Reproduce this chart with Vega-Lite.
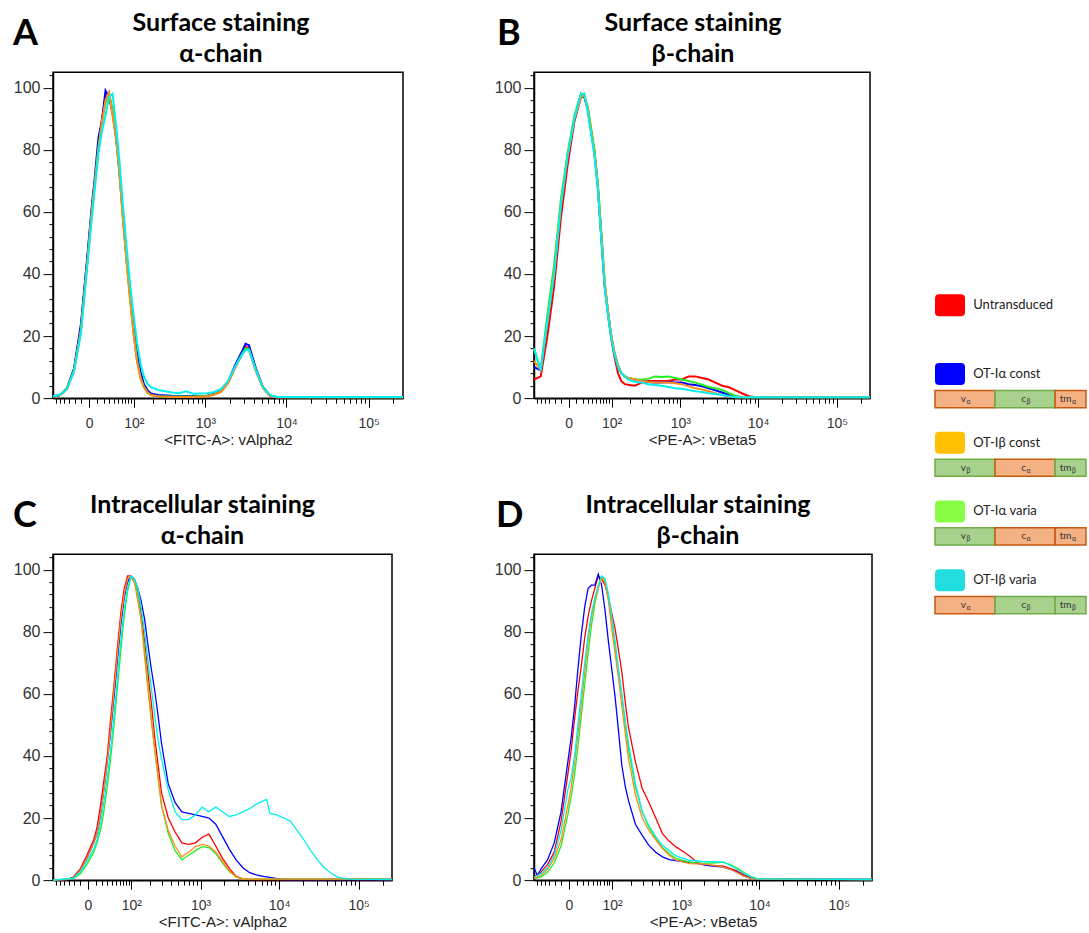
{
"$schema": "https://vega.github.io/schema/vega-lite/v6.json",
"background": "white",
"padding": {"left": 12, "top": 10, "right": 0, "bottom": 0},
"config": {
  "font": "Liberation Sans",
  "view": {"stroke": "black", "strokeWidth": 1.5},
  "axis": {"grid": false, "domainColor": "black", "domainWidth": 1.5, "tickColor": "black", "tickWidth": 1, "labelColor": "#333", "labelFont": "Liberation Sans", "labelFontSize": 14, "titleFont": "Liberation Sans", "titleFontSize": 15, "titleFontWeight": "normal", "titleColor": "#222", "labelOverlap": false, "labelBound": false, "labelFlush": false},
  "title": {"font": "Lato", "fontSize": 25, "fontWeight": "bold", "color": "black", "lineHeight": 31, "offset": -51, "anchor": "middle", "frame": "group"}
},
"datasets": {
"A": [
{"s":"U","x":-69.7,"y":0.5},{"s":"U","x":-50.2,"y":1},{"s":"U","x":-34.2,"y":3},{"s":"U","x":-21,"y":9},{"s":"U","x":-10.1,"y":23},{"s":"U","x":-1.2,"y":47},{"s":"U","x":2.9,"y":60},{"s":"U","x":7.3,"y":70},{"s":"U","x":12.1,"y":81},{"s":"U","x":17.5,"y":90},{"s":"U","x":23.4,"y":97},{"s":"U","x":30,"y":98},{"s":"U","x":37.2,"y":92},{"s":"U","x":45.1,"y":85},{"s":"U","x":53.9,"y":73},{"s":"U","x":63.5,"y":58},{"s":"U","x":74.2,"y":45},{"s":"U","x":85.9,"y":33},{"s":"U","x":98.9,"y":22},{"s":"U","x":113,"y":13},{"s":"U","x":129,"y":7},{"s":"U","x":146,"y":4},{"s":"U","x":166,"y":2},{"s":"U","x":186,"y":1.2},{"s":"U","x":236,"y":0.8},{"s":"U","x":368,"y":0.5},{"s":"U","x":695,"y":0.5},{"s":"U","x":1046,"y":0.7},{"s":"U","x":1282,"y":1.2},{"s":"U","x":1567,"y":2},{"s":"U","x":1916,"y":5},{"s":"U","x":2337,"y":10},{"s":"U","x":2852,"y":14.5},{"s":"U","x":3154,"y":16.5},{"s":"U","x":3476,"y":16},{"s":"U","x":4236,"y":9},{"s":"U","x":5172,"y":3.5},{"s":"U","x":6300,"y":0.8},{"s":"U","x":7674,"y":0.3},{"s":"U","x":262144,"y":0.3},
{"s":"Ac","x":-69.7,"y":0.5},{"s":"Ac","x":-50.2,"y":1},{"s":"Ac","x":-34.2,"y":3.2},{"s":"Ac","x":-21,"y":9.5},{"s":"Ac","x":-10.1,"y":24},{"s":"Ac","x":-1.2,"y":48},{"s":"Ac","x":2.9,"y":61},{"s":"Ac","x":7.3,"y":72},{"s":"Ac","x":12.1,"y":84},{"s":"Ac","x":17.5,"y":89.5},{"s":"Ac","x":23.4,"y":99},{"s":"Ac","x":30,"y":97},{"s":"Ac","x":37.2,"y":92},{"s":"Ac","x":45.1,"y":84},{"s":"Ac","x":53.9,"y":73},{"s":"Ac","x":63.5,"y":59},{"s":"Ac","x":74.2,"y":46},{"s":"Ac","x":85.9,"y":35},{"s":"Ac","x":98.9,"y":24},{"s":"Ac","x":113,"y":15},{"s":"Ac","x":129,"y":8.5},{"s":"Ac","x":146,"y":4.5},{"s":"Ac","x":166,"y":2.5},{"s":"Ac","x":186,"y":1.5},{"s":"Ac","x":236,"y":1},{"s":"Ac","x":368,"y":0.8},{"s":"Ac","x":695,"y":0.7},{"s":"Ac","x":1046,"y":0.8},{"s":"Ac","x":1282,"y":1.3},{"s":"Ac","x":1567,"y":2.2},{"s":"Ac","x":1916,"y":5.2},{"s":"Ac","x":2337,"y":10.5},{"s":"Ac","x":2852,"y":15},{"s":"Ac","x":3154,"y":17.5},{"s":"Ac","x":3476,"y":17},{"s":"Ac","x":4236,"y":9.5},{"s":"Ac","x":5172,"y":3.5},{"s":"Ac","x":6300,"y":0.8},{"s":"Ac","x":7674,"y":0.3},{"s":"Ac","x":262144,"y":0.3},
{"s":"Av","x":-69.7,"y":0.5},{"s":"Av","x":-50.2,"y":1},{"s":"Av","x":-34.2,"y":3},{"s":"Av","x":-21,"y":9},{"s":"Av","x":-10.1,"y":22},{"s":"Av","x":-1.2,"y":46},{"s":"Av","x":2.9,"y":59},{"s":"Av","x":7.3,"y":70},{"s":"Av","x":12.1,"y":81},{"s":"Av","x":17.5,"y":89},{"s":"Av","x":23.4,"y":95},{"s":"Av","x":30,"y":98},{"s":"Av","x":37.2,"y":93},{"s":"Av","x":45.1,"y":84},{"s":"Av","x":53.9,"y":72},{"s":"Av","x":63.5,"y":58},{"s":"Av","x":74.2,"y":44},{"s":"Av","x":85.9,"y":32},{"s":"Av","x":98.9,"y":21},{"s":"Av","x":113,"y":12},{"s":"Av","x":129,"y":6.5},{"s":"Av","x":146,"y":3.5},{"s":"Av","x":166,"y":1.8},{"s":"Av","x":186,"y":1},{"s":"Av","x":236,"y":0.6},{"s":"Av","x":368,"y":0.5},{"s":"Av","x":695,"y":0.5},{"s":"Av","x":1046,"y":0.7},{"s":"Av","x":1282,"y":1.2},{"s":"Av","x":1567,"y":2.1},{"s":"Av","x":1916,"y":5},{"s":"Av","x":2337,"y":9.8},{"s":"Av","x":2852,"y":14.2},{"s":"Av","x":3154,"y":16},{"s":"Av","x":3476,"y":15.8},{"s":"Av","x":4236,"y":8.8},{"s":"Av","x":5172,"y":3.3},{"s":"Av","x":6300,"y":0.8},{"s":"Av","x":7674,"y":0.3},{"s":"Av","x":262144,"y":0.3},
{"s":"Bc","x":-69.7,"y":0.5},{"s":"Bc","x":-50.2,"y":1},{"s":"Bc","x":-34.2,"y":3},{"s":"Bc","x":-21,"y":8.5},{"s":"Bc","x":-10.1,"y":22},{"s":"Bc","x":-1.2,"y":46},{"s":"Bc","x":2.9,"y":59},{"s":"Bc","x":7.3,"y":70},{"s":"Bc","x":12.1,"y":80},{"s":"Bc","x":17.5,"y":89},{"s":"Bc","x":23.4,"y":96},{"s":"Bc","x":30,"y":98.5},{"s":"Bc","x":37.2,"y":91},{"s":"Bc","x":45.1,"y":84},{"s":"Bc","x":53.9,"y":72},{"s":"Bc","x":63.5,"y":57},{"s":"Bc","x":74.2,"y":44},{"s":"Bc","x":85.9,"y":32},{"s":"Bc","x":98.9,"y":21},{"s":"Bc","x":113,"y":12},{"s":"Bc","x":129,"y":6.5},{"s":"Bc","x":146,"y":3.5},{"s":"Bc","x":166,"y":1.8},{"s":"Bc","x":186,"y":1},{"s":"Bc","x":236,"y":0.6},{"s":"Bc","x":368,"y":0.4},{"s":"Bc","x":695,"y":0.4},{"s":"Bc","x":1046,"y":0.6},{"s":"Bc","x":1282,"y":1.1},{"s":"Bc","x":1567,"y":2},{"s":"Bc","x":1916,"y":4.8},{"s":"Bc","x":2337,"y":9.5},{"s":"Bc","x":2852,"y":14},{"s":"Bc","x":3154,"y":15.5},{"s":"Bc","x":3476,"y":15.5},{"s":"Bc","x":4236,"y":8.5},{"s":"Bc","x":5172,"y":3.2},{"s":"Bc","x":6300,"y":0.7},{"s":"Bc","x":7674,"y":0.3},{"s":"Bc","x":262144,"y":0.3},
{"s":"Bv","x":-69.7,"y":0.6},{"s":"Bv","x":-50.2,"y":1.1},{"s":"Bv","x":-34.2,"y":3},{"s":"Bv","x":-21,"y":8.5},{"s":"Bv","x":-10.1,"y":21},{"s":"Bv","x":-1.2,"y":45},{"s":"Bv","x":2.9,"y":57},{"s":"Bv","x":7.3,"y":68},{"s":"Bv","x":12.1,"y":79},{"s":"Bv","x":17.5,"y":86},{"s":"Bv","x":23.4,"y":91},{"s":"Bv","x":30,"y":97},{"s":"Bv","x":37.2,"y":98},{"s":"Bv","x":45.1,"y":88},{"s":"Bv","x":53.9,"y":76},{"s":"Bv","x":63.5,"y":62},{"s":"Bv","x":74.2,"y":49},{"s":"Bv","x":85.9,"y":37},{"s":"Bv","x":98.9,"y":27},{"s":"Bv","x":113,"y":18},{"s":"Bv","x":129,"y":11},{"s":"Bv","x":146,"y":7},{"s":"Bv","x":166,"y":4.5},{"s":"Bv","x":186,"y":3.5},{"s":"Bv","x":236,"y":2.6},{"s":"Bv","x":296,"y":2.2},{"s":"Bv","x":368,"y":1.8},{"s":"Bv","x":457,"y":1.6},{"s":"Bv","x":564,"y":2.2},{"s":"Bv","x":695,"y":1.4},{"s":"Bv","x":1046,"y":1.6},{"s":"Bv","x":1282,"y":2},{"s":"Bv","x":1567,"y":3},{"s":"Bv","x":1916,"y":5.5},{"s":"Bv","x":2337,"y":10},{"s":"Bv","x":2852,"y":14},{"s":"Bv","x":3154,"y":15.5},{"s":"Bv","x":3476,"y":15.5},{"s":"Bv","x":4236,"y":9},{"s":"Bv","x":5172,"y":3.5},{"s":"Bv","x":6300,"y":1},{"s":"Bv","x":7674,"y":0.4},{"s":"Bv","x":262144,"y":0.4}
],
"B": [
{"s":"U","x":-69.7,"y":6},{"s":"U","x":-50.2,"y":7},{"s":"U","x":-34.2,"y":20},{"s":"U","x":-21,"y":36},{"s":"U","x":-10.1,"y":58},{"s":"U","x":-1.2,"y":75},{"s":"U","x":7.3,"y":89},{"s":"U","x":17.5,"y":97},{"s":"U","x":23.4,"y":97},{"s":"U","x":30,"y":93},{"s":"U","x":45.1,"y":79},{"s":"U","x":53.9,"y":68},{"s":"U","x":63.5,"y":52},{"s":"U","x":74.2,"y":36},{"s":"U","x":85.9,"y":27},{"s":"U","x":98.9,"y":19},{"s":"U","x":113,"y":13},{"s":"U","x":129,"y":8},{"s":"U","x":146,"y":5.5},{"s":"U","x":166,"y":4.5},{"s":"U","x":186,"y":4.3},{"s":"U","x":236,"y":4},{"s":"U","x":296,"y":5},{"s":"U","x":368,"y":5.5},{"s":"U","x":457,"y":5.5},{"s":"U","x":564,"y":5.5},{"s":"U","x":695,"y":5.5},{"s":"U","x":854,"y":6},{"s":"U","x":1046,"y":6},{"s":"U","x":1282,"y":7},{"s":"U","x":1567,"y":7},{"s":"U","x":1916,"y":6.5},{"s":"U","x":2337,"y":6},{"s":"U","x":2852,"y":5},{"s":"U","x":3483,"y":4},{"s":"U","x":4245,"y":3.5},{"s":"U","x":5172,"y":2.5},{"s":"U","x":6300,"y":1.5},{"s":"U","x":7674,"y":0.6},{"s":"U","x":9344,"y":0.3},{"s":"U","x":262144,"y":0.3},
{"s":"Ac","x":-69.7,"y":10},{"s":"Ac","x":-50.2,"y":9},{"s":"Ac","x":-34.2,"y":24},{"s":"Ac","x":-21,"y":40},{"s":"Ac","x":-10.1,"y":62},{"s":"Ac","x":-1.2,"y":78},{"s":"Ac","x":7.3,"y":90},{"s":"Ac","x":17.5,"y":98},{"s":"Ac","x":23.4,"y":97},{"s":"Ac","x":30,"y":93},{"s":"Ac","x":45.1,"y":79},{"s":"Ac","x":53.9,"y":68},{"s":"Ac","x":63.5,"y":53},{"s":"Ac","x":74.2,"y":37},{"s":"Ac","x":85.9,"y":28},{"s":"Ac","x":98.9,"y":20},{"s":"Ac","x":113,"y":14},{"s":"Ac","x":129,"y":10.5},{"s":"Ac","x":146,"y":8},{"s":"Ac","x":166,"y":7},{"s":"Ac","x":186,"y":6.5},{"s":"Ac","x":236,"y":6},{"s":"Ac","x":296,"y":5.5},{"s":"Ac","x":368,"y":5.2},{"s":"Ac","x":457,"y":5},{"s":"Ac","x":564,"y":5},{"s":"Ac","x":695,"y":5.2},{"s":"Ac","x":854,"y":5},{"s":"Ac","x":1046,"y":5},{"s":"Ac","x":1282,"y":4.5},{"s":"Ac","x":1567,"y":4.2},{"s":"Ac","x":1916,"y":3.8},{"s":"Ac","x":2337,"y":3.2},{"s":"Ac","x":2852,"y":2.5},{"s":"Ac","x":3483,"y":1.8},{"s":"Ac","x":4245,"y":1},{"s":"Ac","x":5172,"y":0.4},{"s":"Ac","x":6300,"y":0.3},{"s":"Ac","x":262144,"y":0.3},
{"s":"Av","x":-69.7,"y":16},{"s":"Av","x":-50.2,"y":9},{"s":"Av","x":-34.2,"y":27},{"s":"Av","x":-21,"y":43},{"s":"Av","x":-10.1,"y":64},{"s":"Av","x":-1.2,"y":79},{"s":"Av","x":7.3,"y":91},{"s":"Av","x":17.5,"y":98},{"s":"Av","x":23.4,"y":97},{"s":"Av","x":30,"y":94},{"s":"Av","x":45.1,"y":80},{"s":"Av","x":53.9,"y":69},{"s":"Av","x":63.5,"y":54},{"s":"Av","x":74.2,"y":38},{"s":"Av","x":85.9,"y":28},{"s":"Av","x":98.9,"y":20},{"s":"Av","x":113,"y":14.5},{"s":"Av","x":129,"y":10.5},{"s":"Av","x":146,"y":8},{"s":"Av","x":166,"y":7},{"s":"Av","x":186,"y":6.5},{"s":"Av","x":236,"y":6},{"s":"Av","x":296,"y":6},{"s":"Av","x":368,"y":6.2},{"s":"Av","x":457,"y":7},{"s":"Av","x":564,"y":6.8},{"s":"Av","x":695,"y":7},{"s":"Av","x":854,"y":6.5},{"s":"Av","x":1046,"y":6},{"s":"Av","x":1282,"y":5.5},{"s":"Av","x":1567,"y":5},{"s":"Av","x":1916,"y":4.3},{"s":"Av","x":2337,"y":3.6},{"s":"Av","x":2852,"y":3.2},{"s":"Av","x":3483,"y":2.6},{"s":"Av","x":4245,"y":1.6},{"s":"Av","x":5172,"y":0.8},{"s":"Av","x":6300,"y":0.3},{"s":"Av","x":262144,"y":0.3},
{"s":"Bc","x":-69.7,"y":12},{"s":"Bc","x":-50.2,"y":9},{"s":"Bc","x":-34.2,"y":24},{"s":"Bc","x":-21,"y":40},{"s":"Bc","x":-10.1,"y":62},{"s":"Bc","x":-1.2,"y":78},{"s":"Bc","x":7.3,"y":90},{"s":"Bc","x":17.5,"y":97},{"s":"Bc","x":23.4,"y":98},{"s":"Bc","x":30,"y":93},{"s":"Bc","x":45.1,"y":79},{"s":"Bc","x":53.9,"y":68},{"s":"Bc","x":63.5,"y":53},{"s":"Bc","x":74.2,"y":38},{"s":"Bc","x":85.9,"y":28},{"s":"Bc","x":98.9,"y":20},{"s":"Bc","x":113,"y":14.5},{"s":"Bc","x":129,"y":10.5},{"s":"Bc","x":146,"y":8},{"s":"Bc","x":166,"y":7},{"s":"Bc","x":186,"y":6.5},{"s":"Bc","x":236,"y":6},{"s":"Bc","x":296,"y":5.5},{"s":"Bc","x":368,"y":5.2},{"s":"Bc","x":457,"y":5},{"s":"Bc","x":564,"y":5},{"s":"Bc","x":695,"y":5},{"s":"Bc","x":854,"y":4.8},{"s":"Bc","x":1046,"y":4.5},{"s":"Bc","x":1282,"y":3.8},{"s":"Bc","x":1567,"y":3.2},{"s":"Bc","x":1916,"y":2.8},{"s":"Bc","x":2337,"y":2.2},{"s":"Bc","x":2852,"y":1.6},{"s":"Bc","x":3483,"y":1},{"s":"Bc","x":4245,"y":0.5},{"s":"Bc","x":5172,"y":0.3},{"s":"Bc","x":262144,"y":0.3},
{"s":"Bv","x":-69.7,"y":16},{"s":"Bv","x":-50.2,"y":9},{"s":"Bv","x":-34.2,"y":25},{"s":"Bv","x":-21,"y":40},{"s":"Bv","x":-10.1,"y":62},{"s":"Bv","x":-1.2,"y":78},{"s":"Bv","x":7.3,"y":90},{"s":"Bv","x":17.5,"y":98},{"s":"Bv","x":23.4,"y":98},{"s":"Bv","x":30,"y":92},{"s":"Bv","x":45.1,"y":78},{"s":"Bv","x":53.9,"y":67},{"s":"Bv","x":63.5,"y":52},{"s":"Bv","x":74.2,"y":36},{"s":"Bv","x":85.9,"y":27},{"s":"Bv","x":98.9,"y":19},{"s":"Bv","x":113,"y":14},{"s":"Bv","x":129,"y":10},{"s":"Bv","x":146,"y":8},{"s":"Bv","x":166,"y":7},{"s":"Bv","x":186,"y":6},{"s":"Bv","x":236,"y":5.2},{"s":"Bv","x":296,"y":5},{"s":"Bv","x":368,"y":4.5},{"s":"Bv","x":457,"y":4.2},{"s":"Bv","x":564,"y":4},{"s":"Bv","x":695,"y":3.6},{"s":"Bv","x":854,"y":3.2},{"s":"Bv","x":1046,"y":3},{"s":"Bv","x":1282,"y":2.6},{"s":"Bv","x":1567,"y":2.2},{"s":"Bv","x":1916,"y":2},{"s":"Bv","x":2337,"y":1.6},{"s":"Bv","x":2852,"y":1.3},{"s":"Bv","x":3483,"y":1},{"s":"Bv","x":4245,"y":0.6},{"s":"Bv","x":5172,"y":0.3},{"s":"Bv","x":262144,"y":0.3}
],
"C": [
{"s":"U","x":-69.7,"y":0},{"s":"U","x":-34.2,"y":0.2},{"s":"U","x":-21,"y":1},{"s":"U","x":-10.1,"y":3.5},{"s":"U","x":-1.2,"y":8},{"s":"U","x":7.3,"y":13},{"s":"U","x":12.1,"y":17},{"s":"U","x":17.5,"y":24},{"s":"U","x":23.4,"y":32},{"s":"U","x":30,"y":40},{"s":"U","x":37.2,"y":52},{"s":"U","x":45.1,"y":63},{"s":"U","x":53.9,"y":75},{"s":"U","x":63.5,"y":86},{"s":"U","x":74.2,"y":94},{"s":"U","x":85.9,"y":98},{"s":"U","x":98.9,"y":98},{"s":"U","x":113,"y":96},{"s":"U","x":129,"y":93},{"s":"U","x":146,"y":86},{"s":"U","x":166,"y":77},{"s":"U","x":186,"y":67},{"s":"U","x":210,"y":57},{"s":"U","x":236,"y":46},{"s":"U","x":296,"y":28},{"s":"U","x":368,"y":20},{"s":"U","x":457,"y":15.5},{"s":"U","x":564,"y":12},{"s":"U","x":695,"y":11.5},{"s":"U","x":854,"y":12},{"s":"U","x":1047,"y":13.8},{"s":"U","x":1282,"y":14.8},{"s":"U","x":1569,"y":11},{"s":"U","x":1917,"y":7},{"s":"U","x":2341,"y":3.8},{"s":"U","x":2856,"y":1.2},{"s":"U","x":3483,"y":0.4},{"s":"U","x":4245,"y":0.2},{"s":"U","x":262144,"y":0.2},
{"s":"Ac","x":-69.7,"y":0},{"s":"Ac","x":-34.2,"y":0.2},{"s":"Ac","x":-21,"y":0.8},{"s":"Ac","x":-10.1,"y":3},{"s":"Ac","x":-1.2,"y":7},{"s":"Ac","x":7.3,"y":12},{"s":"Ac","x":12.1,"y":15},{"s":"Ac","x":17.5,"y":21},{"s":"Ac","x":23.4,"y":29},{"s":"Ac","x":30,"y":38},{"s":"Ac","x":37.2,"y":48},{"s":"Ac","x":45.1,"y":59},{"s":"Ac","x":53.9,"y":71},{"s":"Ac","x":63.5,"y":82},{"s":"Ac","x":74.2,"y":91},{"s":"Ac","x":85.9,"y":96},{"s":"Ac","x":98.9,"y":98},{"s":"Ac","x":113,"y":97},{"s":"Ac","x":129,"y":94},{"s":"Ac","x":146,"y":90},{"s":"Ac","x":166,"y":84},{"s":"Ac","x":186,"y":76},{"s":"Ac","x":210,"y":68},{"s":"Ac","x":236,"y":61},{"s":"Ac","x":264,"y":53},{"s":"Ac","x":296,"y":44},{"s":"Ac","x":368,"y":31},{"s":"Ac","x":457,"y":25},{"s":"Ac","x":564,"y":22},{"s":"Ac","x":695,"y":21.5},{"s":"Ac","x":854,"y":21},{"s":"Ac","x":1047,"y":20.5},{"s":"Ac","x":1282,"y":20},{"s":"Ac","x":1569,"y":18},{"s":"Ac","x":1917,"y":14},{"s":"Ac","x":2341,"y":10},{"s":"Ac","x":2856,"y":6.5},{"s":"Ac","x":3483,"y":4},{"s":"Ac","x":4245,"y":2.4},{"s":"Ac","x":5172,"y":1.7},{"s":"Ac","x":6300,"y":1.2},{"s":"Ac","x":7674,"y":0.9},{"s":"Ac","x":9344,"y":0.5},{"s":"Ac","x":11376,"y":0.2},{"s":"Ac","x":262144,"y":0.2},
{"s":"Av","x":-69.7,"y":0},{"s":"Av","x":-21,"y":0.5},{"s":"Av","x":-10.1,"y":2},{"s":"Av","x":-1.2,"y":5},{"s":"Av","x":7.3,"y":9},{"s":"Av","x":12.1,"y":12},{"s":"Av","x":17.5,"y":16},{"s":"Av","x":23.4,"y":22},{"s":"Av","x":30,"y":30},{"s":"Av","x":37.2,"y":39},{"s":"Av","x":45.1,"y":50},{"s":"Av","x":53.9,"y":62},{"s":"Av","x":63.5,"y":74},{"s":"Av","x":74.2,"y":85},{"s":"Av","x":85.9,"y":93},{"s":"Av","x":98.9,"y":97.5},{"s":"Av","x":113,"y":97},{"s":"Av","x":129,"y":92},{"s":"Av","x":146,"y":84},{"s":"Av","x":166,"y":74},{"s":"Av","x":186,"y":63},{"s":"Av","x":210,"y":52},{"s":"Av","x":236,"y":42},{"s":"Av","x":296,"y":24},{"s":"Av","x":368,"y":15},{"s":"Av","x":457,"y":9.5},{"s":"Av","x":564,"y":6.5},{"s":"Av","x":695,"y":8},{"s":"Av","x":854,"y":9.5},{"s":"Av","x":1047,"y":10.8},{"s":"Av","x":1282,"y":10.5},{"s":"Av","x":1569,"y":8.5},{"s":"Av","x":1917,"y":5.5},{"s":"Av","x":2341,"y":2.8},{"s":"Av","x":2856,"y":1},{"s":"Av","x":3483,"y":0.3},{"s":"Av","x":262144,"y":0.3},
{"s":"Bc","x":-69.7,"y":0},{"s":"Bc","x":-34.2,"y":0.2},{"s":"Bc","x":-21,"y":0.8},{"s":"Bc","x":-10.1,"y":3},{"s":"Bc","x":-1.2,"y":7},{"s":"Bc","x":7.3,"y":12},{"s":"Bc","x":12.1,"y":15},{"s":"Bc","x":17.5,"y":21},{"s":"Bc","x":23.4,"y":29},{"s":"Bc","x":30,"y":38},{"s":"Bc","x":37.2,"y":49},{"s":"Bc","x":45.1,"y":61},{"s":"Bc","x":53.9,"y":73},{"s":"Bc","x":63.5,"y":84},{"s":"Bc","x":74.2,"y":92},{"s":"Bc","x":85.9,"y":97},{"s":"Bc","x":98.9,"y":98},{"s":"Bc","x":113,"y":96},{"s":"Bc","x":129,"y":90},{"s":"Bc","x":146,"y":84},{"s":"Bc","x":166,"y":72},{"s":"Bc","x":186,"y":62},{"s":"Bc","x":210,"y":51},{"s":"Bc","x":236,"y":42},{"s":"Bc","x":296,"y":24},{"s":"Bc","x":368,"y":16},{"s":"Bc","x":457,"y":11},{"s":"Bc","x":564,"y":7.5},{"s":"Bc","x":695,"y":9},{"s":"Bc","x":854,"y":10.8},{"s":"Bc","x":1047,"y":11.5},{"s":"Bc","x":1282,"y":11},{"s":"Bc","x":1569,"y":9},{"s":"Bc","x":1917,"y":6},{"s":"Bc","x":2341,"y":3},{"s":"Bc","x":2856,"y":1},{"s":"Bc","x":3483,"y":0.3},{"s":"Bc","x":262144,"y":0.3},
{"s":"Bv","x":-69.7,"y":0},{"s":"Bv","x":-21,"y":0.6},{"s":"Bv","x":-10.1,"y":2.5},{"s":"Bv","x":-1.2,"y":6},{"s":"Bv","x":7.3,"y":10},{"s":"Bv","x":12.1,"y":13},{"s":"Bv","x":17.5,"y":18},{"s":"Bv","x":23.4,"y":25},{"s":"Bv","x":30,"y":33},{"s":"Bv","x":37.2,"y":42},{"s":"Bv","x":45.1,"y":53},{"s":"Bv","x":53.9,"y":65},{"s":"Bv","x":63.5,"y":77},{"s":"Bv","x":74.2,"y":87},{"s":"Bv","x":85.9,"y":94},{"s":"Bv","x":98.9,"y":98},{"s":"Bv","x":113,"y":97},{"s":"Bv","x":129,"y":94},{"s":"Bv","x":146,"y":88},{"s":"Bv","x":166,"y":80},{"s":"Bv","x":186,"y":71},{"s":"Bv","x":210,"y":62},{"s":"Bv","x":236,"y":53},{"s":"Bv","x":264,"y":45},{"s":"Bv","x":296,"y":39},{"s":"Bv","x":368,"y":29},{"s":"Bv","x":457,"y":22},{"s":"Bv","x":564,"y":19.5},{"s":"Bv","x":695,"y":19.5},{"s":"Bv","x":854,"y":21},{"s":"Bv","x":1047,"y":23.5},{"s":"Bv","x":1282,"y":22},{"s":"Bv","x":1569,"y":23.5},{"s":"Bv","x":1917,"y":22},{"s":"Bv","x":2341,"y":20.5},{"s":"Bv","x":2856,"y":21},{"s":"Bv","x":3483,"y":22},{"s":"Bv","x":4245,"y":23},{"s":"Bv","x":5172,"y":24.5},{"s":"Bv","x":6300,"y":25.5},{"s":"Bv","x":6955,"y":26},{"s":"Bv","x":7674,"y":21.5},{"s":"Bv","x":9344,"y":21},{"s":"Bv","x":11376,"y":20},{"s":"Bv","x":13845,"y":19},{"s":"Bv","x":16850,"y":16},{"s":"Bv","x":20505,"y":13},{"s":"Bv","x":24952,"y":9.5},{"s":"Bv","x":30363,"y":6.5},{"s":"Bv","x":36947,"y":4},{"s":"Bv","x":44956,"y":2.2},{"s":"Bv","x":54700,"y":1},{"s":"Bv","x":66550,"y":0.5},{"s":"Bv","x":80970,"y":0.3},{"s":"Bv","x":262144,"y":0.2}
],
"D": [
{"s":"U","x":-69.7,"y":1},{"s":"U","x":-50.2,"y":2.5},{"s":"U","x":-34.2,"y":5},{"s":"U","x":-21,"y":9},{"s":"U","x":-10.1,"y":19},{"s":"U","x":-1.2,"y":34},{"s":"U","x":2.9,"y":42},{"s":"U","x":7.3,"y":52},{"s":"U","x":12.1,"y":61},{"s":"U","x":17.5,"y":69},{"s":"U","x":23.4,"y":78},{"s":"U","x":30,"y":85},{"s":"U","x":37.2,"y":90},{"s":"U","x":45.1,"y":94},{"s":"U","x":53.9,"y":98},{"s":"U","x":63.5,"y":97},{"s":"U","x":74.2,"y":95},{"s":"U","x":85.9,"y":91},{"s":"U","x":98.9,"y":86},{"s":"U","x":113,"y":81},{"s":"U","x":129,"y":74},{"s":"U","x":146,"y":67},{"s":"U","x":166,"y":57},{"s":"U","x":186,"y":49},{"s":"U","x":236,"y":38},{"s":"U","x":296,"y":29.5},{"s":"U","x":368,"y":25},{"s":"U","x":457,"y":20},{"s":"U","x":564,"y":15},{"s":"U","x":695,"y":12.5},{"s":"U","x":854,"y":10.7},{"s":"U","x":1047,"y":9.3},{"s":"U","x":1282,"y":7.8},{"s":"U","x":1569,"y":5.9},{"s":"U","x":1917,"y":5},{"s":"U","x":2856,"y":4.7},{"s":"U","x":3483,"y":4.5},{"s":"U","x":4245,"y":3.8},{"s":"U","x":5172,"y":3},{"s":"U","x":6300,"y":1.8},{"s":"U","x":7674,"y":0.9},{"s":"U","x":9344,"y":0.5},{"s":"U","x":11376,"y":0.3},{"s":"U","x":262144,"y":0.2},
{"s":"Ac","x":-69.7,"y":4},{"s":"Ac","x":-59.4,"y":1.5},{"s":"Ac","x":-50.2,"y":3.5},{"s":"Ac","x":-34.2,"y":6.5},{"s":"Ac","x":-21,"y":12},{"s":"Ac","x":-10.1,"y":22},{"s":"Ac","x":-1.2,"y":38},{"s":"Ac","x":2.9,"y":46},{"s":"Ac","x":7.3,"y":56},{"s":"Ac","x":12.1,"y":68},{"s":"Ac","x":17.5,"y":79},{"s":"Ac","x":23.4,"y":88},{"s":"Ac","x":30,"y":94},{"s":"Ac","x":37.2,"y":95},{"s":"Ac","x":45.1,"y":95},{"s":"Ac","x":53.9,"y":98.5},{"s":"Ac","x":63.5,"y":95},{"s":"Ac","x":74.2,"y":87},{"s":"Ac","x":85.9,"y":77},{"s":"Ac","x":98.9,"y":68},{"s":"Ac","x":113,"y":59},{"s":"Ac","x":129,"y":48},{"s":"Ac","x":146,"y":37},{"s":"Ac","x":166,"y":30},{"s":"Ac","x":186,"y":25.5},{"s":"Ac","x":236,"y":18},{"s":"Ac","x":296,"y":14.4},{"s":"Ac","x":368,"y":11.2},{"s":"Ac","x":457,"y":9},{"s":"Ac","x":564,"y":7.5},{"s":"Ac","x":695,"y":6.6},{"s":"Ac","x":1047,"y":6},{"s":"Ac","x":1569,"y":5.5},{"s":"Ac","x":2341,"y":4.6},{"s":"Ac","x":3483,"y":4.2},{"s":"Ac","x":4245,"y":3.5},{"s":"Ac","x":5172,"y":2.6},{"s":"Ac","x":6300,"y":1.4},{"s":"Ac","x":7674,"y":0.7},{"s":"Ac","x":9344,"y":0.3},{"s":"Ac","x":262144,"y":0.2},
{"s":"Av","x":-69.7,"y":0.5},{"s":"Av","x":-50.2,"y":1},{"s":"Av","x":-34.2,"y":2.5},{"s":"Av","x":-21,"y":5.5},{"s":"Av","x":-10.1,"y":11},{"s":"Av","x":-1.2,"y":21},{"s":"Av","x":2.9,"y":27},{"s":"Av","x":7.3,"y":34},{"s":"Av","x":12.1,"y":43},{"s":"Av","x":17.5,"y":53},{"s":"Av","x":23.4,"y":63},{"s":"Av","x":30,"y":73},{"s":"Av","x":37.2,"y":82},{"s":"Av","x":45.1,"y":89},{"s":"Av","x":53.9,"y":94},{"s":"Av","x":63.5,"y":97.5},{"s":"Av","x":74.2,"y":97},{"s":"Av","x":85.9,"y":92},{"s":"Av","x":98.9,"y":84},{"s":"Av","x":113,"y":75},{"s":"Av","x":129,"y":67},{"s":"Av","x":146,"y":59},{"s":"Av","x":166,"y":50},{"s":"Av","x":186,"y":42},{"s":"Av","x":236,"y":30},{"s":"Av","x":296,"y":22},{"s":"Av","x":368,"y":17},{"s":"Av","x":457,"y":13.5},{"s":"Av","x":564,"y":10.5},{"s":"Av","x":695,"y":8.5},{"s":"Av","x":854,"y":7},{"s":"Av","x":1282,"y":5.8},{"s":"Av","x":1917,"y":5.4},{"s":"Av","x":2856,"y":5.6},{"s":"Av","x":3483,"y":5.8},{"s":"Av","x":4245,"y":5},{"s":"Av","x":5172,"y":4},{"s":"Av","x":6300,"y":2.5},{"s":"Av","x":7674,"y":1.2},{"s":"Av","x":9344,"y":0.5},{"s":"Av","x":11376,"y":0.3},{"s":"Av","x":262144,"y":0.2},
{"s":"Bc","x":-69.7,"y":0.5},{"s":"Bc","x":-50.2,"y":1.5},{"s":"Bc","x":-34.2,"y":3.5},{"s":"Bc","x":-21,"y":7},{"s":"Bc","x":-10.1,"y":13},{"s":"Bc","x":-1.2,"y":24},{"s":"Bc","x":2.9,"y":30},{"s":"Bc","x":7.3,"y":38},{"s":"Bc","x":12.1,"y":47},{"s":"Bc","x":17.5,"y":57},{"s":"Bc","x":23.4,"y":67},{"s":"Bc","x":30,"y":77},{"s":"Bc","x":37.2,"y":85},{"s":"Bc","x":45.1,"y":90},{"s":"Bc","x":53.9,"y":94},{"s":"Bc","x":63.5,"y":97.5},{"s":"Bc","x":74.2,"y":96},{"s":"Bc","x":85.9,"y":90},{"s":"Bc","x":98.9,"y":81},{"s":"Bc","x":113,"y":73},{"s":"Bc","x":129,"y":65},{"s":"Bc","x":146,"y":56},{"s":"Bc","x":166,"y":47},{"s":"Bc","x":186,"y":39},{"s":"Bc","x":236,"y":27.5},{"s":"Bc","x":296,"y":20},{"s":"Bc","x":368,"y":16},{"s":"Bc","x":457,"y":13},{"s":"Bc","x":564,"y":10.2},{"s":"Bc","x":695,"y":8},{"s":"Bc","x":854,"y":6.4},{"s":"Bc","x":1282,"y":5.3},{"s":"Bc","x":1917,"y":5.2},{"s":"Bc","x":2856,"y":4.6},{"s":"Bc","x":3483,"y":4.2},{"s":"Bc","x":4245,"y":3.5},{"s":"Bc","x":5172,"y":2.4},{"s":"Bc","x":6300,"y":1.3},{"s":"Bc","x":7674,"y":0.6},{"s":"Bc","x":9344,"y":0.3},{"s":"Bc","x":262144,"y":0.2},
{"s":"Bv","x":-69.7,"y":1},{"s":"Bv","x":-50.2,"y":2},{"s":"Bv","x":-34.2,"y":4},{"s":"Bv","x":-21,"y":8},{"s":"Bv","x":-10.1,"y":16},{"s":"Bv","x":-1.2,"y":29},{"s":"Bv","x":2.9,"y":33},{"s":"Bv","x":7.3,"y":40},{"s":"Bv","x":12.1,"y":50},{"s":"Bv","x":17.5,"y":60},{"s":"Bv","x":23.4,"y":70},{"s":"Bv","x":30,"y":79},{"s":"Bv","x":37.2,"y":86},{"s":"Bv","x":45.1,"y":91},{"s":"Bv","x":53.9,"y":95},{"s":"Bv","x":63.5,"y":98},{"s":"Bv","x":74.2,"y":97},{"s":"Bv","x":85.9,"y":92},{"s":"Bv","x":98.9,"y":85},{"s":"Bv","x":113,"y":77},{"s":"Bv","x":129,"y":68},{"s":"Bv","x":146,"y":60},{"s":"Bv","x":166,"y":51},{"s":"Bv","x":186,"y":44},{"s":"Bv","x":236,"y":31},{"s":"Bv","x":296,"y":22},{"s":"Bv","x":368,"y":17.5},{"s":"Bv","x":457,"y":14},{"s":"Bv","x":564,"y":11.2},{"s":"Bv","x":695,"y":9.5},{"s":"Bv","x":854,"y":7.8},{"s":"Bv","x":1282,"y":6.4},{"s":"Bv","x":1917,"y":6},{"s":"Bv","x":2856,"y":5.9},{"s":"Bv","x":3483,"y":5.8},{"s":"Bv","x":4245,"y":4.8},{"s":"Bv","x":5172,"y":3.5},{"s":"Bv","x":6300,"y":2.2},{"s":"Bv","x":7674,"y":1.2},{"s":"Bv","x":9344,"y":0.4},{"s":"Bv","x":262144,"y":0.2}
],
"legend": [
{"i":0,"name":"Untransduced"},{"i":1,"name":"OT-Iα const"},{"i":2,"name":"OT-Iβ const"},{"i":3,"name":"OT-Iα varia"},{"i":4,"name":"OT-Iβ varia"}
],
"segments": [
{"i":1,"seg":"v","sub":"α","kind":"α","start":0,"end":2},{"i":1,"seg":"c","sub":"β","kind":"β","start":2,"end":4},{"i":1,"seg":"tm","sub":"α","kind":"α","start":4,"end":5.03},
{"i":2,"seg":"v","sub":"β","kind":"β","start":0,"end":2},{"i":2,"seg":"c","sub":"α","kind":"α","start":2,"end":4},{"i":2,"seg":"tm","sub":"β","kind":"β","start":4,"end":5.03},
{"i":3,"seg":"v","sub":"β","kind":"β","start":0,"end":2},{"i":3,"seg":"c","sub":"α","kind":"α","start":2,"end":4},{"i":3,"seg":"tm","sub":"α","kind":"α","start":4,"end":5.03},
{"i":4,"seg":"v","sub":"α","kind":"α","start":0,"end":2},{"i":4,"seg":"c","sub":"β","kind":"β","start":2,"end":4},{"i":4,"seg":"tm","sub":"β","kind":"β","start":4,"end":5.03}
]
},
"hconcat": [
{"vconcat": [
 {"hconcat": [
  {"width": 350, "height": 326,
   "title": {"text": ["Surface staining", "α-chain"], "dx": -7},
   "resolve": {"axis": {"x": "independent", "y": "independent"}},
   "layer": [
    {"data": {"name": "A"},
     "mark": {"type": "line", "strokeWidth": 2},
     "encoding": {
      "x": {"field": "x", "type": "quantitative", "scale": {"type": "symlog", "constant": 40, "domain": [-69.7, 262144], "nice": false, "zero": false},
            "axis": {"orient": "bottom", "title": "<FITC-A>: vAlpha2", "values": [0,100,1000,10000,100000], "labelExpr": "datum.value == 0 ? '0' : datum.value == 100 ? '10²' : datum.value == 1000 ? '10³' : datum.value == 10000 ? '10⁴' : '10⁵'", "tickSize": 9, "labelFontSize": 14, "labelPadding": 9, "titlePadding": 2}},
      "y": {"field": "y", "type": "quantitative", "scale": {"domain": [0, 105], "nice": false},
            "axis": {"orient": "left", "title": null, "values": [0,20,40,60,80,100], "tickSize": 10, "labelFontSize": 16, "labelPadding": 3}},
      "color": {"field": "s", "type": "nominal", "scale": {"domain": ["U","Ac","Av","Bc","Bv"], "range": ["#ff0000","#0000ff","#22ee22","#ff8c1a","#00f0f0"]}, "legend": null}
     }},
    {"data": {"values": [{"label": "A"}]},
     "mark": {"type": "text", "align": "left", "baseline": "middle", "dx": -40, "dy": -38, "font": "Lato", "fontSize": 36, "fontWeight": "bold", "color": "black"},
     "encoding": {
      "x": {"datum": -69.7, "type": "quantitative", "axis": {"orient": "bottom", "title": null, "labels": false, "domain": false, "tickSize": 5, "values": [-60,-50,-40,-30,-20,-10,10,20,30,40,50,60,70,80,90,200,300,400,500,600,700,800,900,2000,3000,4000,5000,6000,7000,8000,9000,20000,30000,40000,50000,60000,70000,80000,90000,200000]}},
      "y": {"datum": 105, "type": "quantitative", "axis": {"orient": "left", "title": null, "labels": false, "domain": false, "tickSize": 4, "values": [4,8,12,16,24,28,32,36,44,48,52,56,64,68,72,76,84,88,92,96,104]}},
      "text": {"field": "label"}}}
   ]},
  {"width": 336, "height": 326,
   "title": {"text": ["Surface staining", "β-chain"], "dx": -9},
   "resolve": {"axis": {"x": "independent", "y": "independent"}},
   "layer": [
    {"data": {"name": "B"},
     "mark": {"type": "line", "strokeWidth": 2},
     "encoding": {
      "x": {"field": "x", "type": "quantitative", "scale": {"type": "symlog", "constant": 40, "domain": [-69.7, 262144], "nice": false, "zero": false},
            "axis": {"orient": "bottom", "title": "<PE-A>: vBeta5", "values": [0,100,1000,10000,100000], "labelExpr": "datum.value == 0 ? '0' : datum.value == 100 ? '10²' : datum.value == 1000 ? '10³' : datum.value == 10000 ? '10⁴' : '10⁵'", "tickSize": 9, "labelFontSize": 14, "labelPadding": 9, "titlePadding": 2}},
      "y": {"field": "y", "type": "quantitative", "scale": {"domain": [0, 105], "nice": false},
            "axis": {"orient": "left", "title": null, "values": [0,20,40,60,80,100], "tickSize": 10, "labelFontSize": 16, "labelPadding": 3}},
      "color": {"field": "s", "type": "nominal", "scale": {"domain": ["U","Ac","Av","Bc","Bv"], "range": ["#ff0000","#0000ff","#22ee22","#ff8c1a","#00f0f0"]}, "legend": null}
     }},
    {"data": {"values": [{"label": "B"}]},
     "mark": {"type": "text", "align": "left", "baseline": "middle", "dx": -37, "dy": -38, "font": "Lato", "fontSize": 36, "fontWeight": "bold", "color": "black"},
     "encoding": {
      "x": {"datum": -69.7, "type": "quantitative", "axis": {"orient": "bottom", "title": null, "labels": false, "domain": false, "tickSize": 5, "values": [-60,-50,-40,-30,-20,-10,10,20,30,40,50,60,70,80,90,200,300,400,500,600,700,800,900,2000,3000,4000,5000,6000,7000,8000,9000,20000,30000,40000,50000,60000,70000,80000,90000,200000]}},
      "y": {"datum": 105, "type": "quantitative", "axis": {"orient": "left", "title": null, "labels": false, "domain": false, "tickSize": 4, "values": [4,8,12,16,24,28,32,36,44,48,52,56,64,68,72,76,84,88,92,96,104]}},
      "text": {"field": "label"}}}
   ]}
 ], "spacing": 85},
 {"hconcat": [
  {"width": 339, "height": 326,
   "title": {"text": ["Intracellular staining", "α-chain"], "dx": -20},
   "resolve": {"axis": {"x": "independent", "y": "independent"}},
   "layer": [
    {"data": {"name": "C"},
     "mark": {"type": "line", "strokeWidth": 1.3},
     "encoding": {
      "x": {"field": "x", "type": "quantitative", "scale": {"type": "symlog", "constant": 40, "domain": [-69.7, 262144], "nice": false, "zero": false},
            "axis": {"orient": "bottom", "title": "<FITC-A>: vAlpha2", "values": [0,100,1000,10000,100000], "labelExpr": "datum.value == 0 ? '0' : datum.value == 100 ? '10²' : datum.value == 1000 ? '10³' : datum.value == 10000 ? '10⁴' : '10⁵'", "tickSize": 9, "labelFontSize": 14, "labelPadding": 9, "titlePadding": 2}},
      "y": {"field": "y", "type": "quantitative", "scale": {"domain": [0, 105], "nice": false},
            "axis": {"orient": "left", "title": null, "values": [0,20,40,60,80,100], "tickSize": 10, "labelFontSize": 16, "labelPadding": 3}},
      "color": {"field": "s", "type": "nominal", "scale": {"domain": ["U","Ac","Av","Bc","Bv"], "range": ["#ff0000","#0000ff","#22ee22","#ff8c1a","#00f0f0"]}, "legend": null}
     }},
    {"data": {"values": [{"label": "C"}]},
     "mark": {"type": "text", "align": "left", "baseline": "middle", "dx": -40, "dy": -38, "font": "Lato", "fontSize": 36, "fontWeight": "bold", "color": "black"},
     "encoding": {
      "x": {"datum": -69.7, "type": "quantitative", "axis": {"orient": "bottom", "title": null, "labels": false, "domain": false, "tickSize": 5, "values": [-60,-50,-40,-30,-20,-10,10,20,30,40,50,60,70,80,90,200,300,400,500,600,700,800,900,2000,3000,4000,5000,6000,7000,8000,9000,20000,30000,40000,50000,60000,70000,80000,90000,200000]}},
      "y": {"datum": 105, "type": "quantitative", "axis": {"orient": "left", "title": null, "labels": false, "domain": false, "tickSize": 4, "values": [4,8,12,16,24,28,32,36,44,48,52,56,64,68,72,76,84,88,92,96,104]}},
      "text": {"field": "label"}}}
   ]},
  {"width": 338, "height": 326,
   "title": {"text": ["Intracellular staining", "β-chain"], "dx": -5},
   "resolve": {"axis": {"x": "independent", "y": "independent"}},
   "layer": [
    {"data": {"name": "D"},
     "mark": {"type": "line", "strokeWidth": 1.3},
     "encoding": {
      "x": {"field": "x", "type": "quantitative", "scale": {"type": "symlog", "constant": 40, "domain": [-69.7, 262144], "nice": false, "zero": false},
            "axis": {"orient": "bottom", "title": "<PE-A>: vBeta5", "values": [0,100,1000,10000,100000], "labelExpr": "datum.value == 0 ? '0' : datum.value == 100 ? '10²' : datum.value == 1000 ? '10³' : datum.value == 10000 ? '10⁴' : '10⁵'", "tickSize": 9, "labelFontSize": 14, "labelPadding": 9, "titlePadding": 2}},
      "y": {"field": "y", "type": "quantitative", "scale": {"domain": [0, 105], "nice": false},
            "axis": {"orient": "left", "title": null, "values": [0,20,40,60,80,100], "tickSize": 10, "labelFontSize": 16, "labelPadding": 3}},
      "color": {"field": "s", "type": "nominal", "scale": {"domain": ["U","Ac","Av","Bc","Bv"], "range": ["#ff0000","#0000ff","#22ee22","#ff8c1a","#00f0f0"]}, "legend": null}
     }},
    {"data": {"values": [{"label": "D"}]},
     "mark": {"type": "text", "align": "left", "baseline": "middle", "dx": -38, "dy": -38, "font": "Lato", "fontSize": 36, "fontWeight": "bold", "color": "black"},
     "encoding": {
      "x": {"datum": -69.7, "type": "quantitative", "axis": {"orient": "bottom", "title": null, "labels": false, "domain": false, "tickSize": 5, "values": [-60,-50,-40,-30,-20,-10,10,20,30,40,50,60,70,80,90,200,300,400,500,600,700,800,900,2000,3000,4000,5000,6000,7000,8000,9000,20000,30000,40000,50000,60000,70000,80000,90000,200000]}},
      "y": {"datum": 105, "type": "quantitative", "axis": {"orient": "left", "title": null, "labels": false, "domain": false, "tickSize": 4, "values": [4,8,12,16,24,28,32,36,44,48,52,56,64,68,72,76,84,88,92,96,104]}},
      "text": {"field": "label"}}}
   ]}
 ], "spacing": 97}
], "spacing": 44},
{"width": 151,
 "height": {"step": 67.5},
 "view": {"stroke": null},
 "layer": [
  {"data": {"name": "legend"},
   "mark": {"type": "point", "shape": "M-0.73,-0.733L0.73,-0.733Q1,-0.733 1,-0.463L1,0.463Q1,0.733 0.73,0.733L-0.73,0.733Q-1,0.733 -1,0.463L-1,-0.463Q-1,-0.733 -0.73,-0.733Z", "size": 900, "filled": true, "opacity": 1, "strokeWidth": 0, "yOffset": -25},
   "encoding": {
     "x": {"datum": 0.5, "type": "quantitative", "scale": {"domain": [0, 5.03], "nice": false, "zero": false}, "axis": null},
     "y": {"field": "i", "type": "ordinal", "scale": {"type": "band", "domain": [0,1,2,3,4], "paddingInner": 0.75, "paddingOuter": 1.0556, "align": 0.258}, "axis": null},
     "color": {"field": "name", "type": "nominal", "scale": {"domain": ["Untransduced","OT-Iα const","OT-Iβ const","OT-Iα varia","OT-Iβ varia"], "range": ["#ff0000","#0000ff","#ffc000","#88ff44","#22dddd"]}, "legend": null}
   }},
  {"data": {"name": "legend"},
   "mark": {"type": "text", "align": "left", "baseline": "middle", "yOffset": -25, "font": "Lato", "fontSize": 13, "color": "#222"},
   "encoding": {"x": {"datum": 1.27, "type": "quantitative"}, "y": {"field": "i", "type": "ordinal"}, "text": {"field": "name"}}},
  {"data": {"name": "segments"},
   "mark": {"type": "rect", "strokeWidth": 1.5},
   "encoding": {
     "x": {"field": "start", "type": "quantitative"}, "x2": {"field": "end"},
     "y": {"field": "i", "type": "ordinal"},
     "fill": {"field": "kind", "type": "nominal", "scale": {"domain": ["α","β"], "range": ["#f4b183","#a9d18e"]}, "legend": null},
     "stroke": {"field": "kind", "type": "nominal", "scale": {"domain": ["α","β"], "range": ["#c55a11","#70ad47"]}, "legend": null}
   }},
  {"data": {"name": "segments"},
   "transform": [{"fold": ["start","end"], "as": ["edge","pos"]}, {"aggregate": [{"op": "mean", "field": "pos", "as": "mid"}], "groupby": ["i","seg","sub"]}],
   "mark": {"type": "text", "align": "right", "baseline": "middle", "dx": 1, "font": "Lato", "fontSize": 10, "color": "#333"},
   "encoding": {"x": {"field": "mid", "type": "quantitative"}, "y": {"field": "i", "type": "ordinal"}, "text": {"field": "seg"}}},
  {"data": {"name": "segments"},
   "transform": [{"fold": ["start","end"], "as": ["edge","pos"]}, {"aggregate": [{"op": "mean", "field": "pos", "as": "mid"}], "groupby": ["i","seg","sub"]}],
   "mark": {"type": "text", "align": "left", "baseline": "middle", "dx": 1.5, "dy": 3, "font": "Lato", "fontSize": 7, "color": "#333"},
   "encoding": {"x": {"field": "mid", "type": "quantitative"}, "y": {"field": "i", "type": "ordinal"}, "text": {"field": "sub"}}}
 ]}
],
"spacing": 58,
"center": true,
"resolve": {"scale": {"color": "independent"}}
}
